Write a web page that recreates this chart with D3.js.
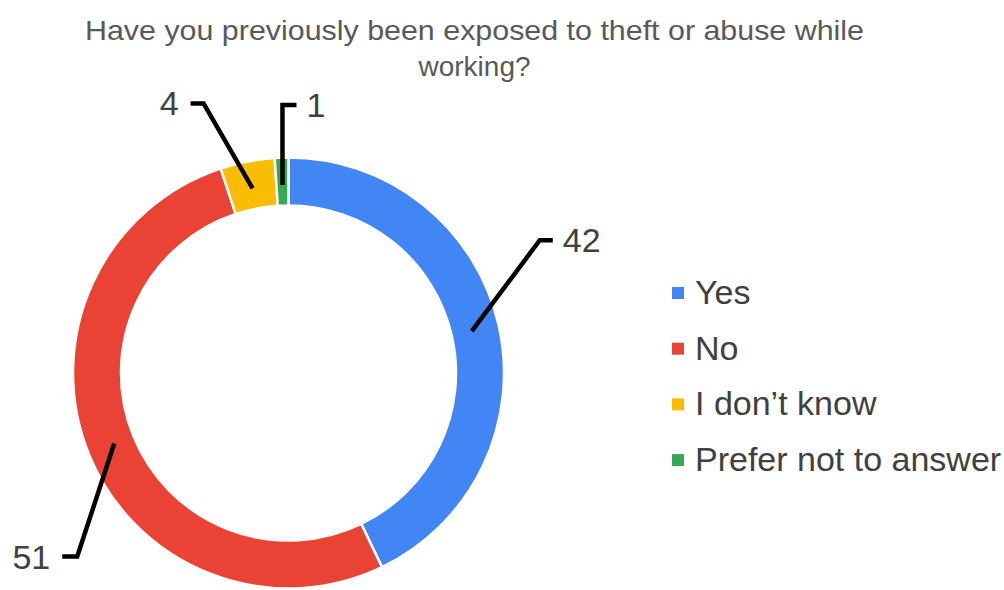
<!DOCTYPE html>
<html>
<head>
<meta charset="utf-8">
<script src="https://cdn.jsdelivr.net/npm/d3@7"></script>
<style>
  html, body { margin: 0; padding: 0; background: #fff; }
  svg { display: block; font-family: "Liberation Sans", Arial, sans-serif; }
</style>
</head>
<body>
<svg id="chart" width="1004" height="590"></svg>
<script>
// Survey answers
const categories = ["Yes", "No", "I don\u2019t know", "Prefer not to answer"];
const counts = [42, 51, 4, 1];
const colors = ["#4285F4", "#EA4335", "#FBBC04", "#34A853"];
const titleLines = ["Have you previously been exposed to theft or abuse while", "working?"];

// Leader-line layout for each value label: elbow offset from the anchor,
// the horizontal tail length (sign gives direction)
const labelLayout = [
  { dx: 68, dy: -91, tail: 13 },
  { dx: -37, dy: 113, tail: -15 },
  { dx: -49, dy: -85, tail: -13 },
  { dx: 0, dy: -80, tail: 14 }
];

const svg = d3.select("#chart");
const cx = 288.5, cy = 373;
const outerR = 215.5, innerR = 167.5, anchorR = 188;

// Title
svg.append("g").selectAll("text")
  .data(titleLines)
  .join("text")
  .attr("x", 474.5)
  .attr("y", (d, i) => 40 + i * 36)
  .attr("text-anchor", "middle")
  .attr("font-size", 28)
  .attr("fill", "#595959")
  .attr("textLength", (d, i) => i === 0 ? 779 : null)
  .attr("lengthAdjust", "spacingAndGlyphs")
  .text(d => d);

const pie = d3.pie().sort(null).value(d => d.value).startAngle(0).endAngle(2 * Math.PI);
const arcs = pie(categories.map((c, i) => ({ name: c, value: counts[i], color: colors[i] })));
const arc = d3.arc().innerRadius(innerR).outerRadius(outerR);
const anchorArc = d3.arc().innerRadius(anchorR).outerRadius(anchorR);

const g = svg.append("g").attr("transform", `translate(${cx},${cy})`);

g.selectAll("path.slice")
  .data(arcs)
  .join("path")
  .attr("class", "slice")
  .attr("d", arc)
  .attr("fill", d => d.data.color)
  .attr("stroke", "#fff")
  .attr("stroke-width", 2.5)
  .attr("stroke-linejoin", "round");

// Leader lines and value labels
arcs.forEach((d, i) => {
  const [ax, ay] = anchorArc.centroid(d);
  const L = labelLayout[i];
  const ex = ax + L.dx, ey = ay + L.dy;
  const tx = ex + L.tail;
  g.append("polyline")
    .attr("points", `${ax},${ay} ${ex},${ey} ${tx},${ey}`)
    .attr("fill", "none")
    .attr("stroke", "#000")
    .attr("stroke-width", 4.5)
    .attr("stroke-linejoin", "miter");
  const right = L.tail > 0;
  g.append("text")
    .attr("x", tx + (right ? 10 : -12))
    .attr("y", ey + 12)
    .attr("text-anchor", right ? "start" : "end")
    .attr("font-size", 34)
    .attr("fill", "#404040")
    .text(d.data.value);
});

// Legend
const legend = svg.append("g").attr("transform", "translate(672,293)");
const items = legend.selectAll("g")
  .data(categories)
  .join("g")
  .attr("transform", (d, i) => `translate(0,${i * 55.7})`);
items.append("rect")
  .attr("x", 0).attr("y", -6)
  .attr("width", 12).attr("height", 12)
  .attr("fill", (d, i) => colors[i]);
items.append("text")
  .attr("x", 23)
  .attr("y", 11)
  .attr("font-size", 34)
  .attr("fill", "#404040")
  .text(d => d);
</script>
</body>
</html>
